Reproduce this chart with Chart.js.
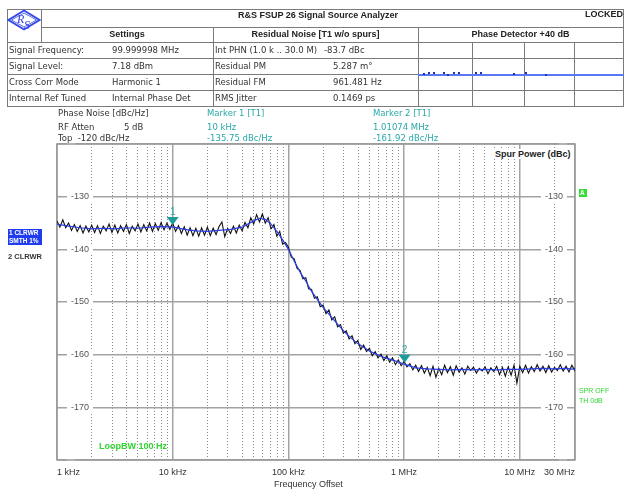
<!DOCTYPE html>
<html><head><meta charset="utf-8">
<script src="https://cdn.jsdelivr.net/npm/chart.js@4.4.1/dist/chart.umd.min.js"></script>
<style>
html,body{margin:0;padding:0;background:#fff;}
#wrap{position:relative;width:624px;height:489px;overflow:hidden;background:#fff;}
#c{position:absolute;left:0;top:0;}
.t{position:absolute;line-height:10px;white-space:nowrap;font-family:"DejaVu Sans",sans-serif;font-size:8.5px;color:#333;}
.b{font-family:"Liberation Sans",Arial,sans-serif;font-weight:bold;font-size:9px;color:#222;}
.a{font-family:"Liberation Sans",Arial,sans-serif;}
.h{position:absolute;height:1px;background:#7a7a7a;}
.v{position:absolute;width:1px;background:#7a7a7a;}
.teal{color:#2aa8a8;}
.g{color:#2fd42f;}
.dot{position:absolute;width:2px;height:2px;background:#2233aa;}
</style></head>
<body><div id="wrap">
<canvas id="c" width="624" height="489"></canvas>

<!-- header table lines -->
<div class="h" style="left:7px;top:9px;width:617px"></div>
<div class="h" style="left:41px;top:27px;width:582px"></div>
<div class="h" style="left:7px;top:42px;width:617px"></div>
<div class="h" style="left:7px;top:58px;width:617px"></div>
<div class="h" style="left:7px;top:74px;width:617px"></div>
<div class="h" style="left:7px;top:90px;width:617px"></div>
<div class="h" style="left:7px;top:106px;width:617px"></div>
<div class="v" style="left:7px;top:9px;height:98px"></div>
<div class="v" style="left:41px;top:9px;height:33px"></div>
<div class="v" style="left:213px;top:27px;height:80px"></div>
<div class="v" style="left:418px;top:27px;height:80px"></div>
<div class="v" style="left:623px;top:9px;height:98px"></div>
<div class="v" style="left:472px;top:42px;height:65px"></div>
<div class="v" style="left:524px;top:42px;height:65px"></div>
<div class="v" style="left:574px;top:42px;height:65px"></div>
<div style="position:absolute;left:418px;top:74px;width:206px;height:2px;background:#5a78f4"></div>
<div class="dot" style="left:423px;top:73px"></div><div class="dot" style="left:428px;top:72px"></div>
<div class="dot" style="left:433px;top:72px"></div><div class="dot" style="left:443px;top:72px"></div>
<div class="dot" style="left:447px;top:74px"></div><div class="dot" style="left:453px;top:72px"></div>
<div class="dot" style="left:458px;top:72px"></div><div class="dot" style="left:475px;top:72px"></div>
<div class="dot" style="left:480px;top:72px"></div><div class="dot" style="left:513px;top:73px"></div>
<div class="dot" style="left:525px;top:72px"></div><div class="dot" style="left:545px;top:74px"></div>

<!-- logo -->
<svg style="position:absolute;left:7px;top:9px" width="34" height="24" viewBox="0 0 34 24">
<polygon points="17,1.5 32.5,11 17,20.5 1.5,11" fill="none" stroke="#3346e8" stroke-width="1.8"/>
<polygon points="17,4 29.5,11 17,18 4.5,11" fill="none" stroke="#3346e8" stroke-width="0.8"/>
<text x="10" y="14" font-family="Liberation Serif" font-size="12" font-style="italic" fill="#3346e8">R</text>
<text x="17" y="20" font-family="Liberation Serif" font-size="12" font-style="italic" fill="#3346e8">S</text>
</svg>

<!-- header texts -->
<div class="t b" style="left:238px;top:10px">R&amp;S FSUP 26 Signal Source Analyzer</div>
<div class="t b" style="left:585px;top:9px">LOCKED</div>
<div class="t b" style="left:41px;width:172px;text-align:center;top:29px">Settings</div>
<div class="t b" style="left:213px;width:205px;text-align:center;top:29px">Residual Noise [T1 w/o spurs]</div>
<div class="t b" style="left:418px;width:205px;text-align:center;top:29px">Phase Detector +40 dB</div>

<div class="t" style="left:9px;top:45px">Signal Frequency:</div>
<div class="t" style="left:112px;top:45px">99.999998 MHz</div>
<div class="t" style="left:9px;top:61px">Signal Level:</div>
<div class="t" style="left:112px;top:61px">7.18 dBm</div>
<div class="t" style="left:9px;top:77px">Cross Corr Mode</div>
<div class="t" style="left:112px;top:77px">Harmonic 1</div>
<div class="t" style="left:9px;top:93px">Internal Ref Tuned</div>
<div class="t" style="left:112px;top:93px">Internal Phase Det</div>

<div class="t" style="left:215px;top:45px">Int PHN (1.0 k .. 30.0 M)</div>
<div class="t" style="left:324px;top:45px">-83.7 dBc</div>
<div class="t" style="left:215px;top:61px">Residual PM</div>
<div class="t" style="left:333px;top:61px">5.287 m°</div>
<div class="t" style="left:215px;top:77px">Residual FM</div>
<div class="t" style="left:333px;top:77px">961.481 Hz</div>
<div class="t" style="left:215px;top:93px">RMS Jitter</div>
<div class="t" style="left:333px;top:93px">0.1469 ps</div>

<!-- labels above plot -->
<div class="t" style="left:58px;top:108px">Phase Noise [dBc/Hz]</div>
<div class="t" style="left:58px;top:122px">RF Atten</div>
<div class="t" style="left:124px;top:122px">5 dB</div>
<div class="t" style="left:58px;top:133px">Top &nbsp;-120 dBc/Hz</div>
<div class="t teal" style="left:207px;top:108px">Marker 1 [T1]</div>
<div class="t teal" style="left:207px;top:122px">10 kHz</div>
<div class="t teal" style="left:207px;top:133px">-135.75 dBc/Hz</div>
<div class="t teal" style="left:373px;top:108px">Marker 2 [T1]</div>
<div class="t teal" style="left:373px;top:122px">1.01074 MHz</div>
<div class="t teal" style="left:373px;top:133px">-161.92 dBc/Hz</div>

<!-- labels in/around plot -->
<div class="t b" style="left:494px;top:149px;background:#fff;padding:0 1px">Spur Power (dBc)</div>
<div class="t b g" style="left:99px;top:441px">LoopBW 100 Hz</div>
<div style="position:absolute;left:8px;top:229px;width:34px;height:16px;background:#1f3cf0"></div>
<div class="t a" style="left:9px;top:229px;font-size:6.5px;line-height:8px;color:#fff;font-weight:bold">1 CLRWR<br>SMTH 1%</div>
<div class="t a" style="left:8px;top:252px;font-size:7.5px;font-weight:bold;color:#333">2 CLRWR</div>
<div style="position:absolute;left:579px;top:189px;width:8px;height:8px;background:#33dd33"></div>
<div class="t a" style="left:580px;top:188px;font-size:6.5px;color:#fff;font-weight:bold">A</div>
<div class="t a g" style="left:579px;top:386px;font-size:7px;line-height:10px">SPR OFF<br>TH 0dB</div>
<div class="t a" style="left:274px;top:479px;font-size:9px">Frequency Offset</div>
</div>

<script>
// ---------- DATA ----------
// x tick positions (kHz) and labels
const tickValues = [1, 10, 100, 1000, 10000, 30000];
const tickLabels = ['1 kHz', '10 kHz', '100 kHz', '1 MHz', '10 MHz', '30 MHz'];
const minorTickValues = [2,3,4,5,6,7,8,9, 20,30,40,50,60,70,80,90, 200,300,400,500,600,700,800,900,
  2000,3000,4000,5000,6000,7000,8000,9000, 20000];
const yTickValues = [-180, -170, -160, -150, -140, -130, -120];

// Trace 1 (raw, black): offset frequency in kHz
const rawFreqs = [
  1,1.059,1.122,1.189,1.259,1.334,1.413,1.496,1.585,1.679,1.778,1.884,1.995,2.113,2.239,2.371,2.512,2.661,2.818,2.985,
  3.162,3.350,3.548,3.758,3.981,4.217,4.467,4.732,5.012,5.309,5.623,5.957,6.310,6.683,7.079,7.499,7.943,8.414,8.913,9.441,
  10,10.59,11.22,11.89,12.59,13.34,14.13,14.96,15.85,16.79,17.78,18.84,19.95,21.13,22.39,23.71,25.12,26.61,28.18,29.85,
  31.62,33.50,35.48,37.58,39.81,42.17,44.67,47.32,50.12,53.09,56.23,59.57,63.10,66.83,70.79,74.99,79.43,84.14,89.13,94.41,
  100,105.9,112.2,118.9,125.9,133.4,141.3,149.6,158.5,167.9,177.8,188.4,199.5,211.3,223.9,237.1,251.2,266.1,281.8,298.5,
  316.2,335.0,354.8,375.8,398.1,421.7,446.7,473.2,501.2,530.9,562.3,595.7,631.0,668.3,707.9,749.9,794.3,841.4,891.3,944.1,
  1000,1059,1122,1189,1259,1334,1413,1496,1585,1679,1778,1884,1995,2113,2239,2371,2512,2661,2818,2985,
  3162,3350,3548,3758,3981,4217,4467,4732,5012,5309,5623,5957,6310,6683,7079,7499,7943,8414,8913,9441,
  10000,10590,11220,11890,12590,13340,14130,14960,15850,16790,17780,18840,19950,21130,22390,23710,25120,26610,28180,29850,30000
];
// Trace 1 values, dBc/Hz
const rawValues = [
  -134.6,-135.8,-134.4,-135.9,-135.0,-136.4,-135.3,-136.6,-135.5,-136.9,-135.6,-136.7,-135.4,-136.8,-135.5,-137.0,-135.6,-136.5,-135.2,-136.8,
  -135.4,-136.9,-135.5,-136.6,-135.3,-137.0,-135.6,-136.5,-135.2,-136.7,-135.3,-136.5,-135.0,-136.6,-135.1,-136.4,-134.9,-136.3,-135.0,-136.2,
  -135.0,-136.6,-135.5,-137.0,-135.7,-137.3,-135.9,-137.4,-136.0,-137.5,-135.9,-137.3,-135.8,-137.4,-136.0,-137.2,-135.7,-134.8,-137.6,-136.0,
  -137.0,-135.6,-136.9,-135.4,-136.5,-134.9,-135.9,-134.0,-135.2,-133.4,-134.8,-133.3,-135.0,-134.0,-136.1,-135.3,-137.5,-136.6,-139.0,-138.7,
  -139.6,-141.5,-141.8,-143.6,-144.0,-145.6,-145.4,-147.5,-147.6,-149.3,-149.0,-150.9,-150.6,-152.2,-151.5,-153.4,-152.8,-154.7,-154.3,-155.9,
  -155.5,-157.0,-156.4,-157.9,-157.3,-159.0,-158.2,-159.4,-158.8,-160.2,-159.4,-160.6,-159.9,-161.1,-160.2,-161.4,-160.6,-161.9,-161.0,-162.1,
  -161.3,-162.3,-161.7,-162.9,-162.0,-163.2,-162.1,-163.5,-162.4,-164.0,-162.2,-164.3,-162.6,-163.8,-162.0,-163.4,-162.3,-163.9,-162.1,-163.3,
  -162.5,-163.7,-162.2,-163.0,-162.4,-163.5,-162.6,-163.1,-162.3,-163.6,-162.5,-163.2,-162.2,-163.8,-162.4,-164.1,-162.3,-163.9,-162.0,-165.4,
  -162.2,-163.4,-162.0,-163.5,-162.3,-163.2,-161.9,-163.1,-162.2,-163.4,-162.1,-163.3,-162.4,-163.0,-161.9,-163.1,-162.2,-163.3,-162.0,-163.0,-162.5
];

// Trace 2 (smoothed 1%, blue)
const smoothFreqs = [
  1,1.259,1.585,1.995,2.512,3.162,3.981,5.012,6.310,7.943,
  10,12.59,15.85,19.95,25.12,31.62,39.81,50.12,56.23,63.10,70.79,79.43,89.13,
  100,112.2,125.9,141.3,158.5,177.8,199.5,223.9,251.2,281.8,316.2,354.8,398.1,446.7,501.2,562.3,631.0,707.9,794.3,891.3,
  1000,1259,1585,1995,2512,3162,3981,5012,6310,7943,
  10000,12590,15850,19950,25120,30000
];
const smoothValues = [
  -135.2,-135.6,-135.9,-136.1,-136.0,-136.1,-135.9,-136.0,-135.8,-135.7,
  -135.75,-136.2,-136.5,-136.6,-136.4,-136.2,-135.8,-134.6,-134.1,-134.3,-135.2,-136.6,-138.2,
  -140.0,-142.2,-144.3,-146.0,-148.0,-149.5,-151.0,-152.3,-153.6,-154.8,-156.0,-157.0,-157.9,-158.6,-159.3,-159.8,-160.3,-160.7,-161.0,-161.4,
  -161.8,-162.5,-162.7,-162.8,-162.9,-162.8,-162.9,-162.8,-162.9,-162.8,
  -162.8,-162.7,-162.6,-162.7,-162.6,-162.8
];

// Markers
const markerFreqs = [10, 1010.74];
const markerValues = [-135.75, -161.92];
const markerNames = ['1', '2'];

// ---------- CHART ----------
const framePlugin = {
  id: 'frame',
  beforeDatasetsDraw(chart) {
    const {ctx, chartArea: a} = chart;
    ctx.save();
    ctx.strokeStyle = '#9a9a9a';
    ctx.lineWidth = 1.5;
    ctx.strokeRect(a.left, a.top, a.right - a.left, a.bottom - a.top);
    ctx.restore();
  }
};
const markerPlugin = {
  id: 'markers',
  afterDatasetsDraw(chart) {
    const {ctx, scales: {x, y}} = chart;
    markerFreqs.forEach((f, i) => {
      const px = x.getPixelForValue(f);
      const py = y.getPixelForValue(markerValues[i]) - 2;
      ctx.save();
      ctx.fillStyle = '#1e9c9c';
      ctx.beginPath();
      ctx.moveTo(px, py);
      ctx.lineTo(px - 6, py - 8);
      ctx.lineTo(px + 6, py - 8);
      ctx.closePath();
      ctx.fill();
      ctx.fillStyle = '#2aa8a8';
      ctx.font = '10px "Liberation Sans"';
      ctx.textAlign = 'center';
      ctx.textBaseline = 'alphabetic';
      ctx.fillText(markerNames[i], px, py - 10);
      ctx.restore();
    });
  }
};

const tickFont = {family: 'Liberation Sans', size: 9};
new Chart(document.getElementById('c'), {
  type: 'line',
  data: {
    datasets: [
      {
        label: 'SMTH 1%',
        data: smoothFreqs.map((f, i) => ({x: f, y: smoothValues[i]})),
        borderColor: '#2a3ee6', borderWidth: 1.2, pointRadius: 0, tension: 0, order: 0
      },
      {
        label: 'CLRWR',
        data: rawFreqs.map((f, i) => ({x: f, y: rawValues[i]})),
        borderColor: '#111111', borderWidth: 1.1, pointRadius: 0, tension: 0, order: 1
      }
    ]
  },
  options: {
    responsive: false,
    animation: false,
    events: [],
    layout: {padding: {left: 57, right: 49, top: 144, bottom: 0}},
    plugins: {legend: {display: false}, tooltip: {enabled: false}},
    scales: {
      x: {
        type: 'logarithmic', position: 'bottom', min: 1, max: 30000,
        afterBuildTicks: s => { s.ticks = tickValues.map(v => ({value: v})); },
        afterFit: s => { s.height = 29; },
        ticks: {
          autoSkip: false, maxRotation: 0, align: 'inner', padding: 7, color: '#333', font: tickFont,
          callback: (v, i) => tickLabels[i]
        },
        grid: {color: '#a3a3a3', lineWidth: 1.5, drawTicks: false},
        border: {display: false}
      },
      xm: {
        type: 'logarithmic', position: 'bottom', min: 1, max: 30000,
        afterBuildTicks: s => { s.ticks = minorTickValues.map(v => ({value: v})); },
        afterFit: s => { s.height = 0; },
        ticks: {display: false},
        grid: {color: '#8a8a8a', lineWidth: 1, drawTicks: false},
        border: {display: false, dash: [1, 2]}
      },
      y: {
        type: 'linear', position: 'left', min: -180, max: -120,
        afterBuildTicks: s => { s.ticks = yTickValues.map(v => ({value: v})); },
        afterFit: s => { s.width = 0; },
        ticks: {
          mirror: true, padding: 14, color: '#555', font: tickFont,
          showLabelBackdrop: true, backdropColor: '#ffffff',
          backdropPadding: {top: 0, bottom: 0, left: 4, right: 4},
          callback: v => (v === -180 || v === -120) ? '' : String(v)
        },
        grid: {color: '#a3a3a3', lineWidth: 1.5, drawTicks: false},
        border: {display: false}
      },
      y2: {
        type: 'linear', position: 'right', min: -180, max: -120,
        afterBuildTicks: s => { s.ticks = yTickValues.map(v => ({value: v})); },
        afterFit: s => { s.width = 0; },
        ticks: {
          mirror: true, padding: -12, color: '#555', font: tickFont,
          showLabelBackdrop: true, backdropColor: '#ffffff',
          backdropPadding: {top: 0, bottom: 0, left: 4, right: 4},
          callback: v => (v === -180 || v === -120) ? '' : String(v)
        },
        grid: {display: false, drawTicks: false},
        border: {display: false}
      }
    }
  },
  plugins: [framePlugin, markerPlugin]
});
</script>
</body></html>
